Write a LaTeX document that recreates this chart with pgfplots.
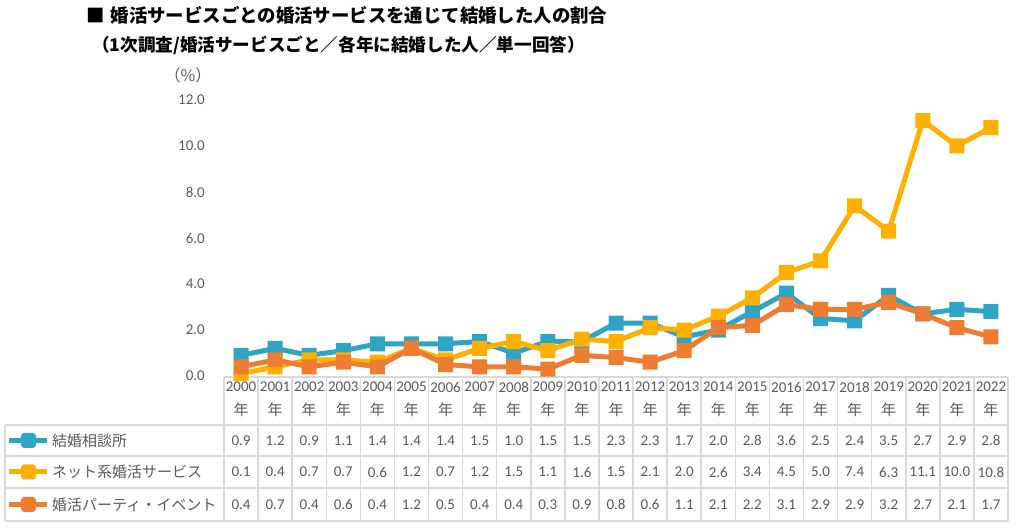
\documentclass[border=0pt]{standalone}
\usepackage{fontspec}
\setmainfont{Carlito}
\newfontfamily\jp{Noto Sans CJK JP}
\usepackage{pgfplots}
\pgfplotsset{compat=1.18}
\usepackage{pgfplotstable}

\definecolor{cBlue}{HTML}{2EA5C5}
\definecolor{cGold}{HTML}{FFB000}
\definecolor{cOrange}{HTML}{EE7D31}
\definecolor{txt}{HTML}{595959}
\definecolor{tgrid}{HTML}{D9D9D9}

% rounded square marker, like the Excel one
\pgfdeclareplotmark{rsq}{%
  \pgfsetcornersarced{\pgfpoint{0.45\pgfplotmarksize}{0.45\pgfplotmarksize}}%
  \pgfpathmoveto{\pgfpoint{-\pgfplotmarksize}{0pt}}%
  \pgfpathlineto{\pgfpoint{-\pgfplotmarksize}{\pgfplotmarksize}}%
  \pgfpathlineto{\pgfpoint{\pgfplotmarksize}{\pgfplotmarksize}}%
  \pgfpathlineto{\pgfpoint{\pgfplotmarksize}{-\pgfplotmarksize}}%
  \pgfpathlineto{\pgfpoint{-\pgfplotmarksize}{-\pgfplotmarksize}}%
  \pgfpathclose
  \pgfusepathqfill}

% a: 結婚相談所, b: ネット系婚活サービス, c: 婚活パーティ・イベント
\pgfplotstableread{
x year a b c
0 2000 0.9 0.1 0.4
1 2001 1.2 0.4 0.7
2 2002 0.9 0.7 0.4
3 2003 1.1 0.7 0.6
4 2004 1.4 0.6 0.4
5 2005 1.4 1.2 1.2
6 2006 1.4 0.7 0.5
7 2007 1.5 1.2 0.4
8 2008 1.0 1.5 0.4
9 2009 1.5 1.1 0.3
10 2010 1.5 1.6 0.9
11 2011 2.3 1.5 0.8
12 2012 2.3 2.1 0.6
13 2013 1.7 2.0 1.1
14 2014 2.0 2.6 2.1
15 2015 2.8 3.4 2.2
16 2016 3.6 4.5 3.1
17 2017 2.5 5.0 2.9
18 2018 2.4 7.4 2.9
19 2019 3.5 6.3 3.2
20 2020 2.7 11.1 2.7
21 2021 2.9 10.0 2.1
22 2022 2.8 10.8 1.7
}\data

\begin{document}
\begin{tikzpicture}
\path[use as bounding box] (0pt,0pt) rectangle (1024pt,529pt);

% titles
\node[anchor=west, inner sep=0pt, font=\jp\bfseries\fontsize{18.4}{20}\selectfont] at (86pt,514pt)
  {■\hspace{6pt}婚活サービスごとの婚活サービスを通じて結婚した人の割合};
\node[anchor=west, inner sep=0pt, font=\jp\bfseries\fontsize{17.6}{19}\selectfont] at (92pt,484pt)
  {（1次調査/婚活サービスごと／各年に結婚した人／単一回答）};
\node[inner sep=0pt, text=txt, font=\jp\fontsize{16}{18}\selectfont] at (188pt,454pt) {（\%）};

% data table grid
\begin{scope}[draw=tgrid, line width=1.5pt]
  \draw (224pt,152pt) -- (1008pt,152pt);
  \foreach \yy in {104,73,41,8} \draw (5pt,\yy pt) -- (1008pt,\yy pt);
  \draw (5pt,104pt) -- (5pt,8pt);
  \foreach \k in {0,...,23} \draw ({224pt+34.087pt*\k},152pt) -- ({224pt+34.087pt*\k},8pt);
\end{scope}

% legend keys in the table
\foreach \yy/\cc in {88.5/cBlue,57/cGold,24.5/cOrange}{
  \draw[\cc, line width=5pt] (9pt,\yy pt) -- (47pt,\yy pt);
  \fill[\cc, rounded corners=3.3pt] (21pt,\yy pt-7.5pt) rectangle (36pt,\yy pt+7.5pt);
}
\begin{scope}[every node/.style={anchor=west, inner sep=0pt, text=txt, font=\jp\fontsize{15}{17}\selectfont}]
  \node at (52pt,88.5pt) {結婚相談所};
  \node at (52pt,57pt) {ネット系婚活サービス};
  \node at (52pt,24.5pt) {婚活パーティ・イベント};
\end{scope}

\begin{axis}[
  at={(224pt,8pt)}, anchor=south west,
  scale only axis, width=784pt, height=421pt,
  xmin=-0.5, xmax=22.5, ymin=-6.304, ymax=12,
  clip=false,
  axis line style={draw=none},
  tick style={draw=none},
  xtick=\empty,
  ytick={0,2,...,12},
  /pgf/number format/assume math mode=true,
  yticklabel style={/pgf/number format/fixed, /pgf/number format/fixed zerofill,
    /pgf/number format/precision=1},
  yticklabel style={text=txt, font=\fontsize{15}{17}\selectfont, inner sep=0pt, xshift=-19pt},
  nodes near coords align={anchor=center},
  every node near coord/.append style={text=txt, font=\fontsize{15}{17}\selectfont, anchor=center, inner sep=0pt},
  line join=round,
  serie/.style={line width=5pt, mark=rsq, mark size=7.5pt},
]
  % series
  \addplot[cBlue, serie] table[x=x, y=a]{\data};
  \addplot[cGold, serie] table[x=x, y=b]{\data};
  \addplot[cOrange, serie] table[x=x, y=c]{\data};

  % header row of the data table
  \addplot[draw=none, mark=none, nodes near coords, point meta=explicit symbolic]
    table[x=x, y expr=-0.478, meta=year]{\data};
  \addplot[draw=none, mark=none, nodes near coords={\jp 年}]
    table[x=x, y expr=-1.478]{\data};

  % values in the data table
  \addplot[draw=none, mark=none, nodes near coords, point meta=explicit symbolic]
    table[x=x, y expr=-2.804, meta=a]{\data};
  \addplot[draw=none, mark=none, nodes near coords, point meta=explicit symbolic]
    table[x=x, y expr=-4.174, meta=b]{\data};
  \addplot[draw=none, mark=none, nodes near coords, point meta=explicit symbolic]
    table[x=x, y expr=-5.587, meta=c]{\data};
\end{axis}
\end{tikzpicture}
\end{document}
